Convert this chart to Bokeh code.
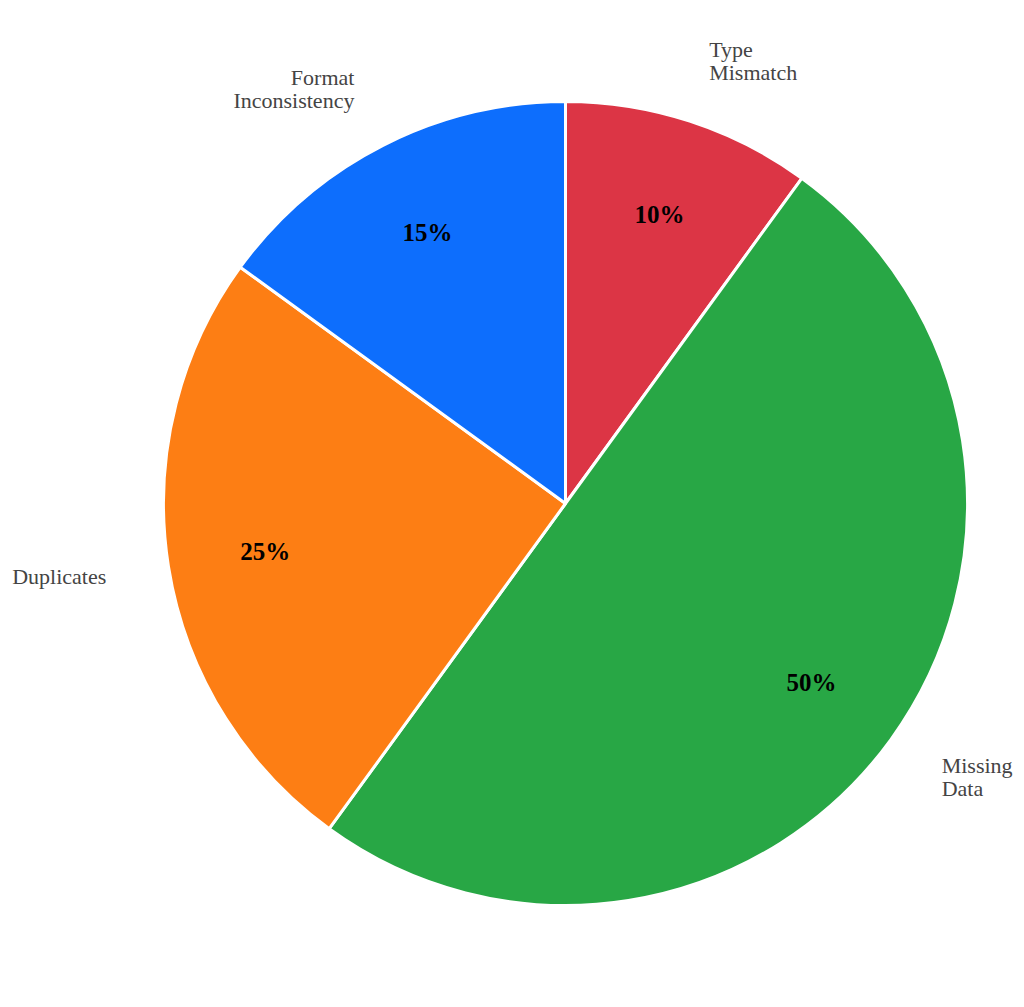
import math
from bokeh.plotting import figure
from bokeh.models import Range1d, ColumnDataSource
from bokeh.core.properties import value
from bokeh.embed import file_html
from bokeh.resources import INLINE

categories = ["Type\nMismatch", "Missing\nData", "Duplicates", "Format\nInconsistency"]
shares = [10, 50, 25, 15]
colors = ["#dc3545", "#28a745", "#fd7e14", "#0d6efd"]

W, H = 1020, 1000
p = figure(width=W, height=H, output_backend="svg", toolbar_location=None,
           x_range=Range1d(0, W), y_range=Range1d(-H, 0),
           min_border=0, outline_line_color=None)
p.axis.visible = False
p.grid.visible = False
p.background_fill_color = "white"

cx, cy, r = 565, -503, 402
total = sum(shares)
starts, ends, mids = [], [], []
acc = 0.0
for s in shares:
    a0 = math.pi / 2 - 2 * math.pi * acc / total
    acc += s
    a1 = math.pi / 2 - 2 * math.pi * acc / total
    starts.append(a1)
    ends.append(a0)
    mids.append((a0 + a1) / 2)

src = ColumnDataSource(dict(start=starts, end=ends, color=colors))
p.wedge(x=cx, y=cy, radius=r, start_angle="start", end_angle="end",
        fill_color="color", line_color="white", line_width=3, source=src)

rin = 304
px = [cx + rin * math.cos(m) for m in mids]
py = [cy + rin * math.sin(m) for m in mids]
p.text(x=px, y=py, text=[f"{s}%" for s in shares], text_align="center",
       text_baseline="middle", text_font=value("Liberation Serif"),
       text_font_style="bold", text_font_size="25px", text_color="black")

rout = 465
lx = [cx + rout * math.cos(m) for m in mids]
ly = [cy + rout * math.sin(m) for m in mids]
aligns = ["left" if math.cos(m) >= 0 else "right" for m in mids]
p.text(x=lx, y=ly, text=categories, text_align=aligns,
       text_baseline="middle", text_font=value("Liberation Serif"),
       text_font_size="22px", text_color="#444444", text_line_height=0.93)

open("out.html", "w").write(file_html(p, INLINE))
